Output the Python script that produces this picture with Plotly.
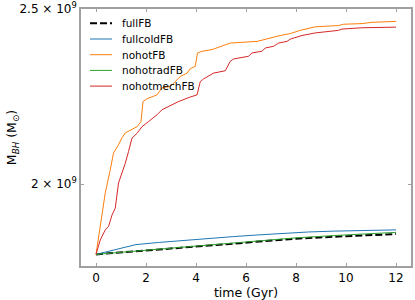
import plotly.graph_objects as go

# time (Gyr)
t_full = [0, 2, 4, 6, 8, 10, 12]
fullFB = [1.829e9, 1.838e9, 1.847e9, 1.857e9, 1.866e9, 1.872e9, 1.877e9]
nohotradFB = [1.829e9, 1.839e9, 1.848e9, 1.858e9, 1.868e9, 1.875e9, 1.881e9]

t_cold = [0, 0.5, 1.0, 1.6, 2.5, 3.5, 4.5, 5.5, 6.5, 7.5, 8.5, 9.5, 10.5, 11.5, 12]
fullcoldFB = [1.829e9, 1.836e9, 1.843e9, 1.852e9, 1.857e9, 1.862e9, 1.867e9, 1.871e9,
              1.875e9, 1.879e9, 1.882e9, 1.884e9, 1.885e9, 1.886e9, 1.887e9]

t_nohot = [0, 0.17, 0.37, 0.57, 0.70, 0.90, 1.04, 1.17, 1.37, 1.64, 1.80, 1.88, 2.04,
           2.44, 2.64, 2.97, 3.37, 3.64, 3.77, 3.97, 4.06, 4.24, 4.64, 4.97, 5.37,
           6.44, 6.90, 7.37, 7.77, 8.17, 8.77, 9.70, 9.90, 10.64, 11.04, 12.0]
nohotFB = [1.829, 1.891, 1.978, 2.037, 2.081, 2.103, 2.122, 2.135, 2.143, 2.152, 2.166,
           2.222, 2.230, 2.241, 2.261, 2.265, 2.294, 2.304, 2.317, 2.324, 2.364, 2.369,
           2.374, 2.384, 2.394, 2.399, 2.409, 2.417, 2.423, 2.433, 2.444, 2.448, 2.452,
           2.454, 2.458, 2.461]
nohotFB = [v * 1e9 for v in nohotFB]

t_mech = [0, 0.17, 0.37, 0.50, 0.64, 0.77, 0.90, 1.04, 1.17, 1.30, 1.44, 1.64, 1.84,
          2.10, 2.44, 2.64, 3.04, 3.30, 3.77, 4.04, 4.17, 4.30, 4.70, 5.17, 5.37, 5.50,
          6.10, 6.24, 6.64, 6.77, 7.10, 7.30, 7.64, 7.77, 8.24, 8.77, 9.70, 9.84, 10.64, 12.0]
nohotmechFB = [1.829, 1.863, 1.887, 1.895, 1.923, 1.940, 2.003, 2.028, 2.054, 2.085,
               2.121, 2.134, 2.152, 2.166, 2.185, 2.199, 2.213, 2.222, 2.235, 2.241,
               2.279, 2.287, 2.304, 2.311, 2.339, 2.346, 2.354, 2.364, 2.369, 2.379,
               2.384, 2.394, 2.399, 2.406, 2.417, 2.425, 2.433, 2.437, 2.441, 2.443]
nohotmechFB = [v * 1e9 for v in nohotmechFB]

x_ticks = [0, 2, 4, 6, 8, 10, 12]
y_ticks = [2e9, 2.5e9]
y_ticktext = ["2 × 10<sup>9</sup>", "2.5 × 10<sup>9</sup>"]

series_names = ["fullFB", "fullcoldFB", "nohotFB", "nohotradFB", "nohotmechFB"]
series_colors = ["black", "#1f77b4", "#ff7f0e", "#2ca02c", "#d62728"]

FONT = "DejaVu Sans"
GRAY = "#a0a0a0"

W, H = 415, 300
ML, MR, MT, MB = 81, 4, 9, 34
PW, PH = W - ML - MR, H - MT - MB

fig = go.Figure()
series = [(t_full, fullFB), (t_cold, fullcoldFB), (t_nohot, nohotFB),
          (t_full, nohotradFB), (t_mech, nohotmechFB)]
for i, (tx, vy) in enumerate(series):
    if i == 0:
        line = dict(color=series_colors[i], width=2, dash="7px,3px")
    else:
        line = dict(color=series_colors[i], width=1)
    fig.add_trace(go.Scatter(x=tx, y=vy, mode="lines", name=series_names[i],
                             line=line, showlegend=False))

# manual legend (matplotlib-like compact spacing), positioned in paper coords
def px_x(px):
    return (px - ML) / PW

def px_y(py):
    return (H - MB - py) / PH

for i, name in enumerate(series_names):
    py = 23.3 + i * 15.7
    if i == 0:
        ln = dict(color=series_colors[i], width=2, dash="7px,3px")
    else:
        ln = dict(color=series_colors[i], width=1)
    fig.add_shape(type="line", xref="paper", yref="paper",
                  x0=px_x(90), x1=px_x(112), y0=px_y(py), y1=px_y(py), line=ln)
    fig.add_annotation(xref="paper", yref="paper", x=px_x(120), y=px_y(py),
                       xanchor="left", yanchor="middle", showarrow=False,
                       text=name, font=dict(family=FONT, size=10.5, color="black"))

fig.update_layout(
    width=W, height=H,
    margin=dict(l=ML, r=MR, t=MT, b=MB),
    paper_bgcolor="white", plot_bgcolor="white",
    font=dict(family=FONT, size=12, color="black"),
    showlegend=False,
    xaxis=dict(range=[-0.6, 12.6], tickvals=x_ticks, ticks="inside", ticklen=3,
               tickcolor=GRAY, showline=True, linecolor=GRAY, linewidth=1.5,
               mirror="ticks", showgrid=False, zeroline=False, automargin=False,
               title=dict(text="time (Gyr)", font=dict(size=12.5), standoff=0),
               tickfont=dict(size=12)),
    yaxis=dict(type="log", range=[9.2558, 9.39795], tickvals=y_ticks,
               ticktext=y_ticktext, ticks="inside", ticklen=3, tickcolor=GRAY,
               showline=True, linecolor=GRAY, linewidth=1.5, mirror="ticks",
               showgrid=False, zeroline=False, automargin=False,
               title=dict(text="M<sub><i>BH</i></sub> (M<sub>⊙</sub>)",
                          font=dict(size=12.5), standoff=0),
               tickfont=dict(size=12)),
)

fig.write_html("out.html", config={"displayModeBar": False},
               post_script="document.body.style.margin='0';")
